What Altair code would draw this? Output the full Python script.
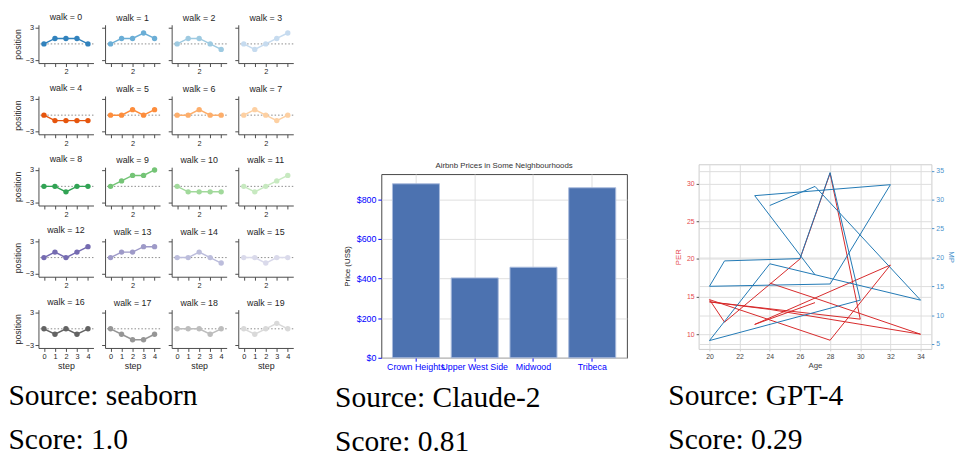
import altair as alt
import pandas as pd

SANS = "Liberation Sans"
SERIF = "Liberation Serif"

# ---------------- Panel 1: seaborn random walks ----------------
steps = [0, 1, 2, 3, 4]
walk_positions = [
    [0, 1, 1, 1, 0], [0, 1, 1, 2, 1], [0, 1, 1, 0, -1], [0, -1, 0, 1, 2],
    [0, -1, -1, -1, -1], [0, 0, 1, 0, 1], [0, 0, 1, 0, 0], [0, 1, 0, -1, 0],
    [0, 0, -1, 0, 0], [0, 1, 2, 2, 3], [0, -1, -1, -1, -1], [0, -1, 0, 1, 2],
    [0, 1, 0, 1, 2], [0, 1, 1, 2, 2], [0, 0, 1, 0, -1], [0, 0, -1, 0, 0],
    [0, -1, 0, -1, 0], [0, -1, -2, -2, -1], [0, 0, 0, -1, 0], [0, -1, 0, 1, 0],
]
walk_colors = [
    "#3182bd", "#6baed6", "#9ecae1", "#c6dbef",
    "#e6550d", "#fd8d3c", "#fdae6b", "#fdd0a2",
    "#31a354", "#74c476", "#a1d99b", "#c7e9c0",
    "#756bb1", "#9e9ac8", "#bcbddc", "#dadaeb",
    "#636363", "#969696", "#bdbdbd", "#d9d9d9",
]

# ---------------- Panel 2: Airbnb prices ----------------
neighbourhoods = ["Crown Heights", "Upper West Side", "Midwood", "Tribeca"]
prices = [878, 403, 457, 858]

# ---------------- Panel 3: PER / MP vs Age ----------------
ages = [24, 27, 34, 24, 20, 30, 28, 26, 21, 20, 28, 32, 23, 27]
per_values = [16.8, 14.8, 10.0, 13.3, 14.3, 12.0, 31.4, 20.0, 11.6, 14.6, 9.2, 19.2, 11.3, 14.2]
mp_values = [29.0, 32.3, 12.6, 18.9, 5.6, 12.6, 34.7, 19.8, 19.4, 15.0, 15.4, 32.6, 30.7, 17.0]

captions = [
    ["Source: seaborn", "Score: 1.0"],
    ["Source: Claude-2", "Score: 0.81"],
    ["Source: GPT-4", "Score: 0.29"],
]

# ---------------- build tables ----------------
walk_rows = []
for w, pos in enumerate(walk_positions):
    for s, p in zip(steps, pos):
        walk_rows.append({"walk": w, "step": s, "position": p})
walk_df = pd.DataFrame(walk_rows)
zero_df = pd.DataFrame({"y": [0]})

TXT = "#262626"
SPINE = "#4a4a4a"


def caption_title(lines, dx, offset):
    return alt.TitleParams(
        text=lines, orient="bottom", anchor="start", font=SERIF, fontSize=30,
        fontWeight="normal", color="black", lineHeight=44, dx=dx, offset=offset,
    )


def make_cell(i):
    r, c = divmod(i, 4)
    color = walk_colors[i]
    xax = dict(values=steps, grid=False, domainColor=SPINE, tickColor=SPINE,
               tickSize=3.5, labelFontSize=7.5, labelColor=TXT, labelPadding=1.5,
               labelFont=SANS, titleFont=SANS, titleFontSize=9,
               titleFontWeight="normal", titleColor=TXT, titlePadding=1)
    if r == 4:
        xax["title"] = "step"
    else:
        xax["title"] = None
        xax["labelExpr"] = "datum.value == 2 ? '2' : ''"
    yax = dict(values=[-3, 3], grid=False, domainColor=SPINE, tickColor=SPINE,
               tickSize=3.5, labelFontSize=7.5, labelColor=TXT, labelPadding=1.5,
               labelFont=SANS, titleFont=SANS, titleFontSize=9,
               titleFontWeight="normal", titleColor=TXT, titlePadding=3)
    if c == 0:
        yax["title"] = "position"
    else:
        yax["title"] = None
        yax["labels"] = False
    xs = alt.Scale(domain=[-0.5, 4.5], nice=False, zero=False)
    ys = alt.Scale(domain=[-3.5, 3.5], nice=False, zero=False)
    X = alt.X("step:Q", scale=xs, axis=alt.Axis(**xax))
    Y = alt.Y("position:Q", scale=ys, axis=alt.Axis(**yax))
    rule = alt.Chart(zero_df).mark_rule(color="#8a8a8a", strokeDash=[1.5, 2],
                                        strokeWidth=1).encode(
        y=alt.Y("y:Q", scale=ys, axis=alt.Axis(**yax)))
    base = alt.Chart(walk_df).transform_filter(alt.datum.walk == i)
    line = base.mark_line(color=color, strokeWidth=1.5).encode(x=X, y=Y)
    pts = base.mark_point(filled=True, size=30, opacity=1, color=color).encode(x=X, y=Y)
    return alt.layer(rule, line, pts).properties(
        width=56, height=39,
        title=alt.TitleParams(f"walk = {i}", font=SANS, fontSize=9,
                              fontWeight="normal", color=TXT, offset=2),
    )


grid_rows = []
for r in range(5):
    cells = [make_cell(r * 4 + c) for c in range(4)]
    grid_rows.append(alt.hconcat(*cells, spacing=11.8, bounds="flush"))
left = alt.vconcat(*grid_rows, spacing=7.5).properties(
    title=caption_title(captions[0], -5, 12))

# ---------------- middle bar chart ----------------
bar_df = pd.DataFrame({"nb": neighbourhoods, "price": prices})
BLUE = "#0000ff"
bars = alt.Chart(bar_df).mark_bar(color="#4c72b0", stroke="#a9bbdc",
                                  strokeWidth=1).encode(
    x=alt.X("nb:N", sort=neighbourhoods,
            scale=alt.Scale(paddingInner=0.2, paddingOuter=0.19),
            axis=alt.Axis(title=None, labelAngle=0, labelColor=BLUE, labelFont=SANS,
                          labelFontSize=9, labelOverlap=False, labelLimit=300,
                          tickColor=BLUE, tickSize=3.5, labelPadding=1.5,
                          domain=False, grid=True, gridColor="#dedede",
                          bandPosition=0.5)),
    y=alt.Y("price:Q", scale=alt.Scale(domain=[0, 927], nice=False),
            axis=alt.Axis(values=[0, 200, 400, 600, 800],
                          labelExpr="'$' + datum.value", labelColor=BLUE,
                          labelFont=SANS, labelFontSize=9, tickColor=BLUE,
                          tickSize=3.5, labelPadding=2, domain=False, grid=True,
                          gridColor="#dedede", title="Price (US$)", titleFont=SANS,
                          titleFontSize=8, titleFontWeight="normal",
                          titleColor="#222222", titlePadding=5)),
).properties(
    width=250, height=187,
    view=alt.ViewBackground(stroke="#444444", strokeWidth=1),
    title=alt.TitleParams("Airbnb Prices in Some Neighbourhoods", font=SANS,
                          fontSize=8, fontWeight="normal", color="#333333",
                          offset=4),
)

spacer_m = alt.Chart(zero_df).mark_point(opacity=0).encode(
    x=alt.value(0), y=alt.value(0)).properties(width=10, height=139)
middle = alt.vconcat(spacer_m, bars, spacing=0).properties(
    title=caption_title(captions[1], -8, 12))

# ---------------- right dual-axis chart ----------------
line_df = pd.DataFrame({"idx": list(range(len(ages))), "age": ages,
                        "per": per_values, "mp": mp_values})
RED_TXT = "#e5484d"
BLUE_TXT = "#4b93cc"
xr = alt.X("age:Q", scale=alt.Scale(domain=[19.28, 34.72], nice=False, zero=False),
           axis=alt.Axis(values=list(range(20, 35, 2)), title="Age", titleFont=SANS,
                         titleFontSize=8, titleFontWeight="normal",
                         titleColor="#444444", labelFont=SANS, labelFontSize=7,
                         labelColor="#444444", tickSize=2, tickColor="#cccccc",
                         domain=False, grid=True, gridColor="#dddddd",
                         labelPadding=2, titlePadding=2))
red_line = alt.Chart(line_df).mark_line(color="#d62728", strokeWidth=1).encode(
    x=xr,
    y=alt.Y("per:Q", scale=alt.Scale(domain=[8.04, 32.6], nice=False, zero=False),
            axis=alt.Axis(orient="left", values=[10, 15, 20, 25, 30], title="PER",
                          titleColor=RED_TXT, titleFont=SANS, titleFontSize=8,
                          titleFontWeight="normal", labelColor=RED_TXT,
                          labelFont=SANS, labelFontSize=7, tickSize=2.5,
                          tickColor="#555555", domain=False, grid=True,
                          gridColor="#dddddd", labelPadding=2, titlePadding=4)),
    order="idx:Q",
)
blue_line = alt.Chart(line_df).mark_line(color="#1f77b4", strokeWidth=1).encode(
    x=xr,
    y=alt.Y("mp:Q", scale=alt.Scale(domain=[4.15, 36.14], nice=False, zero=False),
            axis=alt.Axis(orient="right", values=[5, 10, 15, 20, 25, 30, 35],
                          title="MP", titleColor=BLUE_TXT, titleFont=SANS,
                          titleFontSize=8, titleFontWeight="normal",
                          labelColor=BLUE_TXT, labelFont=SANS, labelFontSize=7,
                          tickSize=2.5, tickColor=BLUE_TXT, domain=False,
                          grid=True, gridColor="#dddddd", labelPadding=2,
                          titlePadding=3)),
    order="idx:Q",
)
dual = alt.layer(red_line, blue_line).resolve_scale(y="independent").properties(
    width=237, height=188,
    view=alt.ViewBackground(stroke="#cccccc", strokeWidth=1),
)
spacer_r = alt.Chart(zero_df).mark_point(opacity=0).encode(
    x=alt.value(0), y=alt.value(0)).properties(width=10, height=141)
right = alt.vconcat(spacer_r, dual, spacing=0).properties(
    title=caption_title(captions[2], -6, 12))

chart = alt.hconcat(left, middle, right, spacing=41).properties(
    padding={"left": 0, "top": 0, "right": 0, "bottom": 0},
    background="white",
).configure_view(stroke=None)

chart.save("out.html", embed_options={"renderer": "svg", "actions": False})
